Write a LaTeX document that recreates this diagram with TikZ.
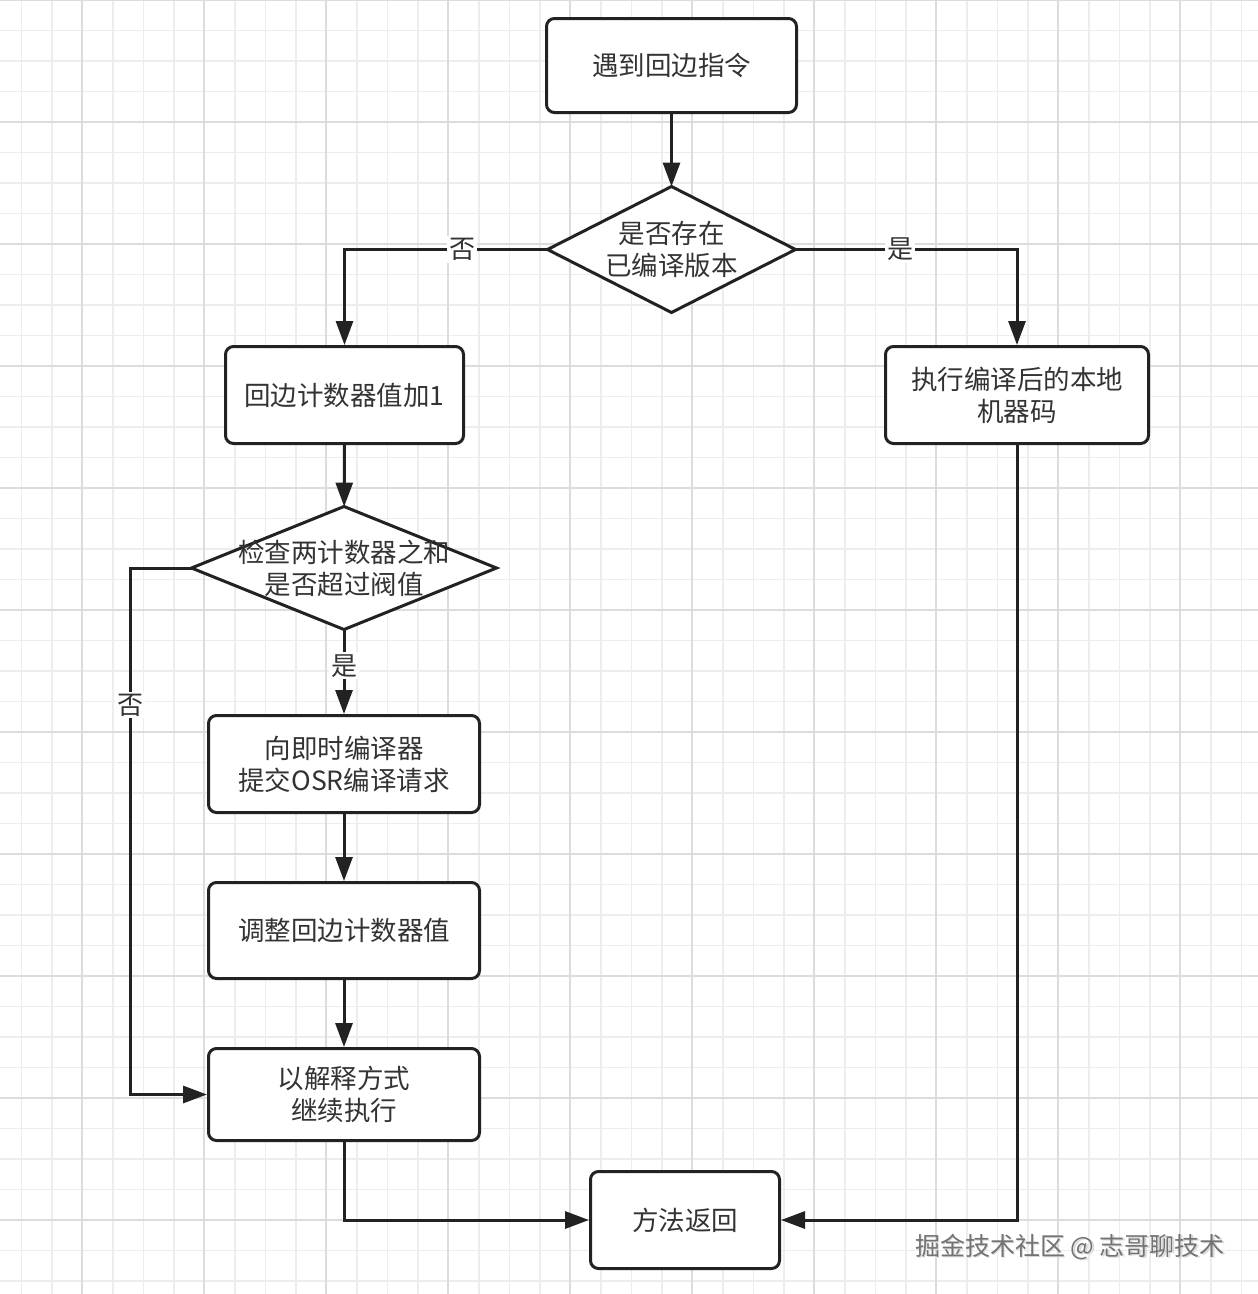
\documentclass[tikz,border=0pt]{standalone}
\usepackage{fontspec}
\setmainfont{Noto Sans CJK SC}
\usetikzlibrary{shapes.geometric,arrows.meta}
\definecolor{edgec}{HTML}{222222}
\definecolor{txtc}{HTML}{333333}
\definecolor{minorc}{HTML}{EDEDED}
\definecolor{majorc}{HTML}{DCDCDC}
\begin{document}
\begin{tikzpicture}[x=1pt,y=-1pt,
  box/.style={draw=edgec, line width=3pt, rounded corners=8pt, fill=white, text=txtc,
    align=center, font=\fontsize{26.5}{32}\selectfont, inner sep=0pt},
  dia/.style={draw=edgec, line width=3pt, diamond, fill=white, inner sep=0pt, outer sep=0pt},
  diatext/.style={text=txtc, align=center, font=\fontsize{26.5}{32}\selectfont, inner sep=0pt},
  arr/.style={draw=edgec, line width=3pt, -{Triangle[length=24pt,width=17pt]}},
  lbl/.style={fill=white, text=txtc, font=\fontsize{26}{30}\selectfont, inner sep=2pt},
  minorl/.style={draw=minorc, line width=1.5pt},
  majorl/.style={draw=majorc, line width=1.8pt}]
\useasboundingbox (0,0) rectangle (1258,1294);
\fill[white] (0,0) rectangle (1258,1294);
% grid
\foreach \i in {0,...,41} {\draw[minorl] ({\i*30.5+21.5},0) -- ({\i*30.5+21.5},1294);}
\foreach \i in {0,...,42} {\draw[minorl] (0,{\i*30.5}) -- (1258,{\i*30.5});}
\foreach \i in {0,...,9} {\draw[majorl] ({\i*122+82},0) -- ({\i*122+82},1294);}
\foreach \i in {0,...,10} {\draw[majorl] (0,{\i*122}) -- (1258,{\i*122});}

% nodes
\node[box, minimum width=250pt, minimum height=94pt] (a) at (671.5,65.5) {遇到回边指令};
\node[dia, minimum width=248pt, minimum height=126pt] (d1) at (671.5,249.5) {};
\node[diatext] (d1t) at (671.5,249.5) {是否存在\\已编译版本};
\node[box, minimum width=238pt, minimum height=97pt] (b) at (344.5,395) {回边计数器值加1};
\node[box, minimum width=263pt, minimum height=97pt] (r) at (1017,395) {执行编译后的本地\\机器码};
\node[dia, minimum width=305pt, minimum height=123pt] (d2) at (344,568) {};
\node[diatext] (d2t) at (344,568) {检查两计数器之和\\是否超过阀值};
\node[box, minimum width=271pt, minimum height=97pt] (c) at (344,764) {向即时编译器\\提交OSR编译请求};
\node[box, minimum width=271pt, minimum height=96pt] (e) at (344,930.5) {调整回边计数器值};
\node[box, minimum width=271pt, minimum height=92pt] (f) at (344,1094.5) {以解释方式\\继续执行};
\node[box, minimum width=189pt, minimum height=97pt] (g) at (685,1220) {方法返回};
\coordinate (lc) at (130,568);

% edges
\draw[arr] (a) -- (d1);
\draw[arr] (d1.west) -| node[lbl, pos=0.21] {否} (b.north);
\draw[arr] (d1.east) -| node[lbl, pos=0.236] {是} (r.north);
\draw[arr] (b) -- (d2);
\draw[arr] (d2.south) -- node[lbl, pos=0.43] {是} (c.north);
\draw[arr] (d2.west) -- (lc) |- node[lbl, pos=0.13] {否} (f.west);
\draw[arr] (c) -- (e);
\draw[arr] (e) -- (f);
\draw[arr] (f.south) |- (g.west);
\draw[arr] (r.south) |- (g.east);

% watermark
\node[text=gray!30, font=\fontsize{25}{28}\selectfont, inner sep=0pt] at (1071.5,1248.5) {掘金技术社区 @ 志哥聊技术};
\node[text=gray!90!black, font=\fontsize{25}{28}\selectfont, inner sep=0pt] (wm) at (1070,1247) {掘金技术社区 @ 志哥聊技术};
\end{tikzpicture}
\end{document}
